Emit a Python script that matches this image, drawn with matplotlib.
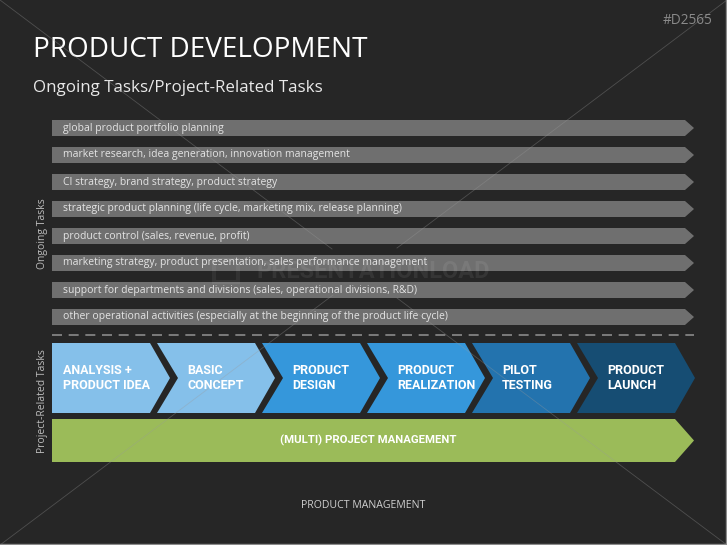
import matplotlib.pyplot as plt
from matplotlib.patches import Polygon

# Textos de la diapositiva
titulo = "PRODUCT DEVELOPMENT"
subtitulo = "Ongoing Tasks/Project-Related Tasks"
codigo = "#D2565"
pie = "PRODUCT MANAGEMENT"

tareas_continuas = [
    "global product portfolio planning",
    "market research, idea generation, innovation management",
    "CI strategy, brand strategy, product strategy",
    "strategic product planning (life cycle, marketing mix, release planning)",
    "product control (sales, revenue, profit)",
    "marketing strategy, product presentation, sales performance management",
    "support for departments and divisions (sales, operational divisions, R&D)",
    "other operational activities (especially at the beginning of the product life cycle)",
]

etapas = ["ANALYSIS +\nPRODUCT IDEA", "BASIC\nCONCEPT", "PRODUCT\nDESIGN",
          "PRODUCT\nREALIZATION", "PILOT\nTESTING", "PRODUCT\nLAUNCH"]
colores_etapas = ["#85c0ea", "#85c0ea", "#3597db", "#3597db", "#2373ae", "#164d73"]

gestion = "(MULTI) PROJECT MANAGEMENT"
color_gestion = "#9bbb59"

fondo = "#262626"
fuente = ["Open Sans", "DejaVu Sans"]
fuente_bold = ["Roboto", "DejaVu Sans"]

fig = plt.figure(figsize=(7.27, 5.45), dpi=100, facecolor=fondo)
ax = fig.add_axes([0, 0, 1, 1])
ax.set_facecolor(fondo)
ax.set_xlim(0, 727)
ax.set_ylim(545, 0)
ax.axis('off')

# Geometria en pixeles
x_ini = 52
x_punta = 694
prof_punta = 9

# Barras de tareas continuas
y0, paso, alto = 120, 27, 16
for i, tarea in enumerate(tareas_continuas):
    y = y0 + i * paso
    pts = [(x_ini, y), (x_punta - prof_punta, y), (x_punta, y + alto / 2),
           (x_punta - prof_punta, y + alto), (x_ini, y + alto)]
    ax.add_patch(Polygon(pts, closed=True, facecolor="#6f6f6f", edgecolor="none", zorder=2))
    ax.text(x_ini + 11, y + alto / 2, tarea, color="#e4e4e4", fontsize=7.5,
            family=fuente, va="center", ha="left", zorder=4)

# Linea discontinua de separacion
ax.plot([x_ini, x_punta], [335, 335], color="#8a8a8a", lw=1.2,
        dashes=(6, 4), zorder=2)

# Chevrones de tareas de proyecto
cy0, cy1 = 343, 413
cmid = (cy0 + cy1) / 2
paso_c, ancho_c, punta_c = 105, 98, 20
for i, (etapa, col) in enumerate(zip(etapas, colores_etapas)):
    x0 = x_ini + i * paso_c
    pts = [(x0, cy0), (x0 + ancho_c, cy0), (x0 + ancho_c + punta_c, cmid),
           (x0 + ancho_c, cy1), (x0, cy1)]
    if i > 0:
        pts.append((x0 + punta_c + 1, cmid))
    ax.add_patch(Polygon(pts, closed=True, facecolor=col, edgecolor="none", zorder=2))
    tx = x0 + (11 if i == 0 else 30)
    ax.text(tx, cmid, etapa, color="white", fontsize=9, fontweight="bold",
            family=fuente_bold, va="center", ha="left", linespacing=1.2, zorder=4)

# Barra verde de gestion
gy0, gy1 = 419, 462
pts = [(x_ini, gy0), (x_punta - 19, gy0), (x_punta, (gy0 + gy1) / 2),
       (x_punta - 19, gy1), (x_ini, gy1)]
ax.add_patch(Polygon(pts, closed=True, facecolor=color_gestion, edgecolor="none", zorder=2))
ax.text(368, (gy0 + gy1) / 2, gestion, color="white", fontsize=8.2, fontweight="bold",
        family=fuente_bold, va="center", ha="center", zorder=4)

# Etiquetas laterales
ax.text(42, 234, "Ongoing Tasks", rotation=90, color="#bdbdbd", fontsize=7.5,
        family=fuente, va="center", ha="center")
ax.text(42, 401, "Project-Related Tasks", rotation=90, color="#bdbdbd", fontsize=7.5,
        family=fuente, va="center", ha="center")

# Titulos
ax.text(33, 50, titulo, color="white", fontsize=20.1, family=fuente, va="center", ha="left")
ax.text(33, 88, subtitulo, color="#e8e8e8", fontsize=12.2, family=fuente, va="center", ha="left")
ax.text(712, 21, codigo, color="#8a8a8a", fontsize=9.8, family=fuente, va="center", ha="right")
ax.text(363, 505, pie, color="#d0d0d0", fontsize=7.6, family=fuente, va="center", ha="center")

# Diagonales decorativas con hueco central
for xs, ys in [([0, 332], [0, 249]), ([397, 727], [298, 545]),
               ([727, 397], [0, 248]), ([333, 0], [295, 545])]:
    ax.plot(xs, ys, color="#9a9a9a", lw=0.6, alpha=0.35, zorder=3)

# Marca de agua
ax.add_patch(plt.Rectangle((214, 260), 24, 22, facecolor="none", edgecolor="white",
                           lw=3, alpha=0.06, zorder=3))
ax.text(257, 272, "PRESENTATIONLOAD", color="white", alpha=0.07, fontsize=17,
        fontweight="bold", family=fuente_bold, va="center", ha="left", zorder=3)

# Borde de la diapositiva
ax.plot([0, 725], [543.5, 543.5], color="#8c8c8c", lw=1, zorder=5)
ax.plot([725.5, 725.5], [0, 545], color="#8c8c8c", lw=1, zorder=5)

fig.savefig("out.png", dpi=100, facecolor=fondo)
